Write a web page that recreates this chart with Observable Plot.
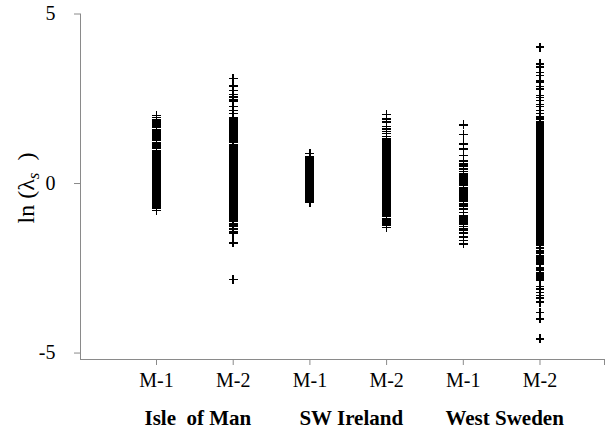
<!DOCTYPE html>
<html>
<head>
<meta charset="utf-8">
<script src="https://cdn.jsdelivr.net/npm/d3@7"></script>
<script src="https://cdn.jsdelivr.net/npm/@observablehq/plot@0.6"></script>
<style>
  html, body { margin: 0; padding: 0; background: #fff; }
  #chart svg, #chart svg text { font-family: 'Liberation Serif', 'Times New Roman', serif !important; }
</style>
</head>
<body>
<div id="chart"></div>
<script>
// Category tick labels (one per column) and region group labels
const categories = ["M-1", "M-2", "M-1", "M-2", "M-1", "M-2"];
const regions = ["Isle\u00a0 of Man", "SW Ireland", "West Sweden"];
const regionPos = [1.5, 3.5, 5.5];
const yTicks = [5, 0, -5];

// ln(lambda_s) values, one array per column
const isleOfManM1 = [2.00, 1.95, 1.88, 1.84, 1.79, 1.75, 1.69, 1.65, 1.58, 1.55, 1.51, 1.47, 1.43, 1.39, 1.35, 1.31, 1.27, 1.20, 1.16, 1.12, 1.07, 1.03, 0.98, 0.93, 0.89, 0.84, 0.80, 0.75, 0.71, 0.67,
  0.63, 0.60, 0.56, 0.53, 0.50, 0.46, 0.43, 0.39, 0.36, 0.32, 0.29, 0.26, 0.22, 0.19, 0.15, 0.12, 0.08, 0.05, 0.01, -0.02, -0.05, -0.09, -0.12, -0.16, -0.19, -0.23, -0.26, -0.29, -0.33, -0.36, -0.40, -0.43, -0.47, -0.50, -0.53, -0.57, -0.60, -0.64, -0.67, -0.71, -0.74, -0.80];

const isleOfManM2 = [3.10, 2.88, 2.75, 2.63, 2.55, 2.47, 2.42, 2.27, 2.15, 2.06, 1.95, 1.91, 1.86, 1.81, 1.76, 1.71, 1.66, 1.61, 1.57, 1.53, 1.49, 1.45, 1.41, 1.37, 1.33, 1.29, 1.25, 1.21,
  1.15, 1.12, 1.08, 1.05, 1.01, 0.98, 0.94, 0.91, 0.87, 0.84, 0.80, 0.77, 0.73, 0.70, 0.66, 0.63, 0.59, 0.56, 0.52, 0.49, 0.45, 0.42, 0.38, 0.35, 0.31, 0.28, 0.24, 0.21, 0.17, 0.14, 0.10, 0.07, 0.03, 0.00,
  -0.04, -0.07, -0.11, -0.14, -0.18, -0.21, -0.25, -0.28, -0.32, -0.35, -0.39, -0.42, -0.46, -0.49, -0.53, -0.56, -0.60, -0.63, -0.67, -0.70, -0.74, -0.77, -0.81, -0.84, -0.88, -0.91, -0.95, -0.98, -1.02, -1.05, -1.09, -1.12,
  -1.18, -1.23, -1.27, -1.32, -1.36, -1.41, -1.44, -1.48, -1.75, -2.83];

const swIrelandM1 = [0.88, 0.79, 0.77, 0.74, 0.70, 0.67, 0.63, 0.60, 0.56, 0.53, 0.49, 0.46, 0.42, 0.39, 0.35, 0.32, 0.28, 0.25, 0.21, 0.18, 0.14, 0.11, 0.07, 0.04, 0.00,
  -0.03, -0.07, -0.10, -0.14, -0.17, -0.21, -0.24, -0.28, -0.31, -0.35, -0.38, -0.42, -0.45, -0.49, -0.55];

const swIrelandM2 = [2.04, 1.91, 1.81, 1.68, 1.61, 1.53, 1.47, 1.39, 1.32, 1.27, 1.22,
  1.17, 1.13, 1.10, 1.06, 1.03, 0.99, 0.96, 0.92, 0.89, 0.85, 0.82, 0.78, 0.75, 0.71, 0.68, 0.64, 0.61, 0.57, 0.54, 0.50, 0.47, 0.43, 0.40, 0.36, 0.33, 0.29, 0.26, 0.22, 0.19, 0.15, 0.12, 0.08, 0.05, 0.01,
  -0.02, -0.06, -0.09, -0.13, -0.16, -0.20, -0.23, -0.27, -0.30, -0.34, -0.37, -0.41, -0.44, -0.48, -0.51, -0.55, -0.58, -0.62, -0.65, -0.69, -0.72, -0.76, -0.79, -0.83, -0.86, -0.90, -0.93, -0.97,
  -1.03, -1.08, -1.12, -1.17, -1.21, -1.24, -1.29];

const westSwedenM1 = [1.73, 1.44, 1.17, 1.02, 0.83, 0.66, 0.58, 0.51, 0.43, 0.36, 0.29, 0.25, 0.21, 0.17, 0.13, 0.09, 0.04, -0.02, -0.06, -0.11, -0.16, -0.18, -0.21, -0.23, -0.26, -0.28, -0.30,
  -0.34, -0.39, -0.45, -0.52, -0.60, -0.67, -0.75, -0.85, -0.94, -0.99, -1.04, -1.09, -1.14, -1.19, -1.27, -1.34, -1.39, -1.44, -1.48, -1.58, -1.68, -1.78];

const westSwedenM2 = [4.02, 3.53, 3.43, 3.28, 3.19, 3.04, 2.99, 2.86, 2.79, 2.60, 2.53, 2.45, 2.33, 2.27, 2.15, 2.06, 1.96, 1.91, 1.81, 1.76,
  1.71, 1.68, 1.64, 1.61, 1.57, 1.54, 1.50, 1.47, 1.43, 1.40, 1.36, 1.33, 1.29, 1.26, 1.22, 1.19, 1.15, 1.12, 1.08, 1.05, 1.01, 0.98, 0.94, 0.91, 0.87, 0.84, 0.80, 0.77, 0.73, 0.70, 0.66, 0.63, 0.59, 0.56, 0.52, 0.49, 0.45, 0.42, 0.38, 0.35, 0.31, 0.28, 0.24, 0.21, 0.17, 0.14, 0.10, 0.07, 0.03, 0.00,
  -0.04, -0.07, -0.11, -0.14, -0.18, -0.21, -0.25, -0.28, -0.32, -0.35, -0.39, -0.42, -0.46, -0.49, -0.53, -0.56, -0.60, -0.63, -0.67, -0.70, -0.74, -0.77, -0.81, -0.84, -0.88, -0.91, -0.95, -0.98, -1.02, -1.05, -1.09, -1.12, -1.16, -1.19, -1.23, -1.26, -1.30, -1.33, -1.37, -1.40, -1.44, -1.47, -1.51, -1.54, -1.58, -1.61, -1.65, -1.68, -1.72,
  -1.78, -1.83, -1.88, -1.92, -1.97, -2.02, -2.07, -2.12, -2.17, -2.22, -2.27, -2.32, -2.37,
  -2.47, -2.52, -2.57, -2.62, -2.67, -2.72, -2.77, -2.82, -2.86,
  -3.04, -3.11, -3.21, -3.30, -3.37, -3.50, -3.80, -3.99, -4.58];

const series = [isleOfManM1, isleOfManM2, swIrelandM1, swIrelandM2, westSwedenM1, westSwedenM2];
const points = series.flatMap((vals, i) => vals.map(v => ({pos: i + 1, value: v})));
const catData = categories.map((c, i) => ({pos: i + 1, label: c}));
const regData = regions.map((r, i) => ({pos: regionPos[i], label: r}));

const xDomain = [0.009, 6.841];
const yDomain = [-5.19, 5];
const axisGray = "#8a8a8a";
const serif = "'Liberation Serif', 'Times New Roman', serif";

const chart = Plot.plot({
  width: 605,
  height: 437,
  marginLeft: 80,
  marginRight: 1,
  marginTop: 13.5,
  marginBottom: 78,
  style: {fontFamily: serif, fontSize: "20px", color: "#000", background: "#fff", overflow: "visible"},
  x: {type: "linear", domain: xDomain, axis: null},
  y: {domain: yDomain, axis: null},
  marks: [
    Plot.ruleX([xDomain[0]], {stroke: axisGray, strokeWidth: 1}),
    Plot.ruleY([yDomain[0]], {stroke: axisGray, strokeWidth: 1}),
    Plot.axisY({ticks: yTicks, tickSize: 6, tickPadding: 19, tickFormat: d => String(d), label: null,
      stroke: axisGray, fill: "#000", fontSize: 20, fontFamily: serif}),
    Plot.axisX({ticks: [1, 2, 3, 4, 5, 6, xDomain[1]], tickSize: 6, tickFormat: () => "", label: null, stroke: axisGray}),
    Plot.text(catData, {x: "pos", text: "label", frameAnchor: "bottom", dy: 27, fontSize: 20, fontFamily: serif, fill: "#000"}),
    Plot.text(regData, {x: "pos", text: "label", frameAnchor: "bottom", dy: 65, dx: 3, fontSize: 21, fontFamily: serif, fontWeight: "bold", fill: "#000"}),
    Plot.dot(points, {x: "pos", y: "value", symbol: "plus", r: 3, stroke: "#000", strokeWidth: 1.5, shapeRendering: "crispEdges"})
  ]
});

document.getElementById("chart").appendChild(chart);

// y-axis title with italic subscript s
const ylab = d3.select(chart).append("text")
  .attr("transform", "translate(34,188) rotate(-90)")
  .attr("text-anchor", "middle")
  .attr("font-family", serif)
  .attr("font-size", 24)
  .attr("fill", "#000");
ylab.append("tspan").text("ln (\u03bb");
ylab.append("tspan").attr("font-style", "italic").attr("font-size", 17).attr("dy", 5).text("s");
ylab.append("tspan").attr("dy", -5).text("\u00a0 )");
</script>
</body>
</html>
